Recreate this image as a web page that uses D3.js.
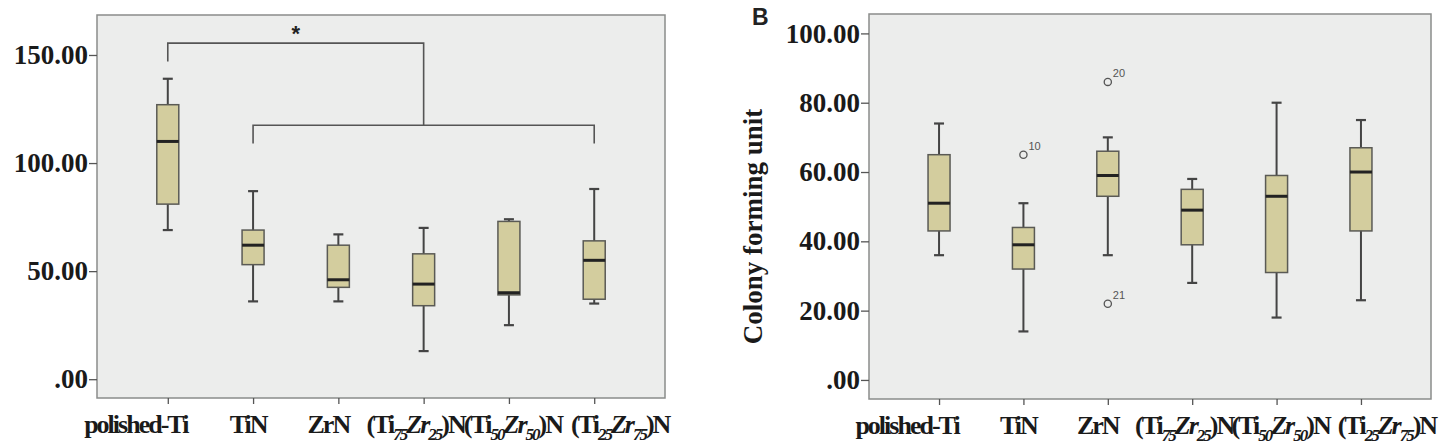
<!DOCTYPE html>
<html>
<head>
<meta charset="utf-8">
<script src="https://cdn.jsdelivr.net/npm/d3@7"></script>
<style>
  body { margin: 0; background: #fff; }
  svg { display: block; }
</style>
</head>
<body>
<script>
var width = 1444
var height = 444

// categories and label pieces (n = normal, s = subscript, i = italic)
var categories = ['polished-Ti', 'TiN', 'ZrN', '(Ti75Zr25)N', '(Ti50Zr50)N', '(Ti25Zr75)N']
var labelParts = [
  [['polished-Ti', 'n']],
  [['TiN', 'n']],
  [['ZrN', 'n']],
  [['(Ti', 'n'], ['75', 's'], ['Zr', 'i'], ['25', 's'], [')N', 'n']],
  [['(Ti', 'n'], ['50', 's'], ['Zr', 'i'], ['50', 's'], [')N', 'n']],
  [['(Ti', 'n'], ['25', 's'], ['Zr', 'i'], ['75', 's'], [')N', 'n']]
]

// panel A
var aMin    = [69, 36, 36, 13, 25, 35]
var aQ1     = [81, 53, 42.5, 34, 39, 37]
var aMedian = [110, 62, 46, 44, 40, 55]
var aQ3     = [127, 69, 62, 58, 73, 64]
var aMax    = [139, 87, 67, 70, 74, 88]
var aTicks  = [0, 50, 100, 150]

// panel B
var bMin    = [36, 14, 36, 28, 18, 23]
var bQ1     = [43, 32, 53, 39, 31, 43]
var bMedian = [51, 39, 59, 49, 53, 60]
var bQ3     = [65, 44, 66, 55, 59, 67]
var bMax    = [74, 51, 70, 58, 80, 75]
var bTicks  = [0, 20, 40, 60, 80, 100]
var bOutliers = [
  {cat: 'TiN', value: 65, id: '10'},
  {cat: 'ZrN', value: 86, id: '20'},
  {cat: 'ZrN', value: 22, id: '21'}
]

// significance bracket for panel A (values in data units)
var bracketTop = 155.5
var bracketTopLeg = 147
var bracketLow = 117.5
var bracketLowLeg = 109

var svg = d3.select('body')
  .append('svg')
  .attr('width', width)
  .attr('height', height)

var fmt = function(v) {
  var s = d3.format('.2f')(v)
  return s.indexOf('0.') === 0 ? s.slice(1) : s
}

// nudges of the category labels, as in the figure
var labelShift = [-32, -5, -10, -8, 4, 26]

function drawPanel(p) {
  var g = svg.append('g')

  var x = d3.scalePoint()
    .domain(categories)
    .range([p.left, p.right])
    .padding(0.83)

  var y = d3.scaleLinear()
    .domain(p.domain)
    .range([p.bottom, p.top])

  g.append('rect')
    .attr('x', p.left)
    .attr('y', p.top)
    .attr('width', p.right - p.left)
    .attr('height', p.bottom - p.top)
    .attr('fill', '#ecedec')
    .attr('stroke', '#8a8c8b')
    .attr('stroke-width', 1.5)

  // y axis
  var yAxis = g.append('g')
    .attr('transform', 'translate(' + p.left + ',0)')
    .call(d3.axisLeft(y).tickValues(p.ticks).tickFormat(fmt).tickSize(8).tickPadding(1))
  yAxis.select('.domain').remove()
  yAxis.selectAll('line').attr('stroke', '#555').attr('stroke-width', 1.3)
  yAxis.selectAll('text')
    .attr('font-family', 'Liberation Serif, serif')
    .attr('font-weight', 'bold')
    .attr('font-size', 27)
    .attr('fill', '#1a1a1a')

  // x axis ticks
  var xAxis = g.append('g')
    .attr('transform', 'translate(0,' + p.bottom + ')')
    .call(d3.axisBottom(x).tickFormat('').tickSize(6).tickSizeOuter(0))
  xAxis.select('.domain').remove()
  xAxis.selectAll('line').attr('stroke', '#555').attr('stroke-width', 1.3)

  // x labels
  var labels = g.append('g').selectAll('text')
    .data(categories)
    .enter()
    .append('text')
    .attr('x', function(d, i) { return x(d) + labelShift[i] })
    .attr('y', p.bottom + 35)
    .attr('text-anchor', 'middle')
    .attr('font-family', 'Liberation Serif, serif')
    .attr('font-weight', 'bold')
    .attr('font-size', 26)
    .attr('letter-spacing', -2)
    .attr('fill', '#1a1a1a')

  labels.each(function(d, i) {
    var t = d3.select(this)
    var shift = 0
    labelParts[i].forEach(function(part) {
      var ts = t.append('tspan').text(part[0])
      if (part[1] === 's') {
        ts.attr('font-size', 17).attr('font-style', 'italic').attr('dy', 7 - shift)
        shift = 7
      } else {
        if (shift) ts.attr('dy', -shift)
        shift = 0
        if (part[1] === 'i') ts.attr('font-style', 'italic')
      }
    })
  })

  // boxes
  var boxes = categories.map(function(c, i) {
    return {cat: c, min: p.min[i], q1: p.q1[i], med: p.med[i], q3: p.q3[i], max: p.max[i]}
  })
  var bw = 22
  var cap = 10

  var bx = g.append('g').selectAll('g')
    .data(boxes)
    .enter()
    .append('g')

  bx.append('line')
    .attr('x1', function(d) { return x(d.cat) })
    .attr('x2', function(d) { return x(d.cat) })
    .attr('y1', function(d) { return y(d.max) })
    .attr('y2', function(d) { return y(d.min) })
    .attr('stroke', '#444')
    .attr('stroke-width', 2)

  bx.selectAll('.cap')
    .data(function(d) { return [d.min, d.max].map(function(v) { return {cat: d.cat, v: v} }) })
    .enter()
    .append('line')
    .attr('class', 'cap')
    .attr('x1', function(d) { return x(d.cat) - cap / 2 })
    .attr('x2', function(d) { return x(d.cat) + cap / 2 })
    .attr('y1', function(d) { return y(d.v) })
    .attr('y2', function(d) { return y(d.v) })
    .attr('stroke', '#444')
    .attr('stroke-width', 2.2)

  bx.append('rect')
    .attr('x', function(d) { return x(d.cat) - bw / 2 })
    .attr('y', function(d) { return y(d.q3) })
    .attr('width', bw)
    .attr('height', function(d) { return y(d.q1) - y(d.q3) })
    .attr('fill', '#d3cd9e')
    .attr('stroke', '#5a5a55')
    .attr('stroke-width', 1.5)

  bx.append('line')
    .attr('x1', function(d) { return x(d.cat) - bw / 2 })
    .attr('x2', function(d) { return x(d.cat) + bw / 2 })
    .attr('y1', function(d) { return y(d.med) })
    .attr('y2', function(d) { return y(d.med) })
    .attr('stroke', '#222')
    .attr('stroke-width', 3)

  return {g: g, x: x, y: y}
}

// panel A
var A = drawPanel({
  left: 97, right: 665, top: 15, bottom: 398,
  domain: [-8.7, 168.5], ticks: aTicks,
  min: aMin, q1: aQ1, med: aMedian, q3: aQ3, max: aMax
})

var xl = A.x(categories[0])
var xlo1 = A.x(categories[1])
var xlo2 = A.x(categories[5])
var xmid = (xlo1 + xlo2) / 2

var bracket = d3.line()
A.g.append('path')
  .attr('d', bracket([[xl, A.y(bracketTopLeg)], [xl, A.y(bracketTop)], [xmid, A.y(bracketTop)], [xmid, A.y(bracketLow)]]))
  .attr('fill', 'none')
  .attr('stroke', '#555')
  .attr('stroke-width', 1.6)
A.g.append('path')
  .attr('d', bracket([[xlo1, A.y(bracketLowLeg)], [xlo1, A.y(bracketLow)], [xlo2, A.y(bracketLow)], [xlo2, A.y(bracketLowLeg)]]))
  .attr('fill', 'none')
  .attr('stroke', '#555')
  .attr('stroke-width', 1.6)
A.g.append('text')
  .attr('x', (xl + xmid) / 2)
  .attr('y', A.y(bracketTop) - 2)
  .attr('text-anchor', 'middle')
  .attr('font-family', 'Liberation Sans, sans-serif')
  .attr('font-weight', 'bold')
  .attr('font-size', 22)
  .attr('fill', '#222')
  .text('*')

// panel B
var B = drawPanel({
  left: 869, right: 1431, top: 14, bottom: 399,
  domain: [-5.5, 105.6], ticks: bTicks,
  min: bMin, q1: bQ1, med: bMedian, q3: bQ3, max: bMax
})

B.g.selectAll('.outlier')
  .data(bOutliers)
  .enter()
  .append('circle')
  .attr('class', 'outlier')
  .attr('cx', function(d) { return B.x(d.cat) })
  .attr('cy', function(d) { return B.y(d.value) })
  .attr('r', 3.6)
  .attr('fill', 'none')
  .attr('stroke', '#555')
  .attr('stroke-width', 1.3)

B.g.selectAll('.olabel')
  .data(bOutliers)
  .enter()
  .append('text')
  .attr('x', function(d) { return B.x(d.cat) + 5 })
  .attr('y', function(d) { return B.y(d.value) - 5 })
  .attr('font-family', 'Liberation Sans, sans-serif')
  .attr('font-size', 11)
  .attr('fill', '#555')
  .text(function(d) { return d.id })

svg.append('text')
  .attr('transform', 'translate(762,' + ((14 + 399) / 2 + 20) + ') rotate(-90)')
  .attr('text-anchor', 'middle')
  .attr('font-family', 'Liberation Serif, serif')
  .attr('font-weight', 'bold')
  .attr('font-size', 27)
  .attr('fill', '#1a1a1a')
  .text('Colony forming unit')

svg.append('text')
  .attr('x', 752)
  .attr('y', 25)
  .attr('font-family', 'Liberation Sans, sans-serif')
  .attr('font-weight', 'bold')
  .attr('font-size', 23)
  .attr('fill', '#222')
  .text('B')
</script>
</body>
</html>
